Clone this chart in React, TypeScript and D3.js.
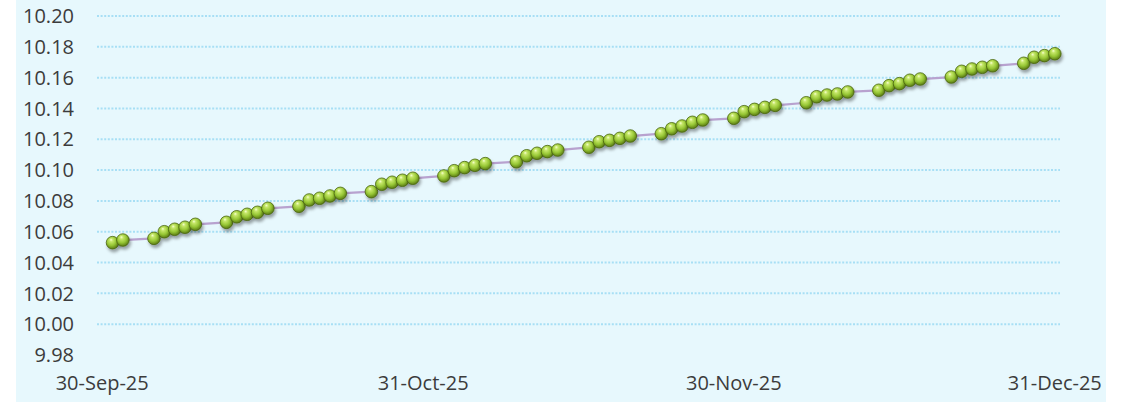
import { useEffect, useRef } from "react";
import * as d3 from "d3";

// trading days (Sun-Thu) and the value
const dates = [
  "2025-10-01", "2025-10-02",
  "2025-10-05", "2025-10-06", "2025-10-07", "2025-10-08", "2025-10-09",
  "2025-10-12", "2025-10-13", "2025-10-14", "2025-10-15", "2025-10-16",
  "2025-10-19", "2025-10-20", "2025-10-21", "2025-10-22", "2025-10-23",
  "2025-10-26", "2025-10-27", "2025-10-28", "2025-10-29", "2025-10-30",
  "2025-11-02", "2025-11-03", "2025-11-04", "2025-11-05", "2025-11-06",
  "2025-11-09", "2025-11-10", "2025-11-11", "2025-11-12", "2025-11-13",
  "2025-11-16", "2025-11-17", "2025-11-18", "2025-11-19", "2025-11-20",
  "2025-11-23", "2025-11-24", "2025-11-25", "2025-11-26", "2025-11-27",
  "2025-11-30", "2025-12-01", "2025-12-02", "2025-12-03", "2025-12-04",
  "2025-12-07", "2025-12-08", "2025-12-09", "2025-12-10", "2025-12-11",
  "2025-12-14", "2025-12-15", "2025-12-16", "2025-12-17", "2025-12-18",
  "2025-12-21", "2025-12-22", "2025-12-23", "2025-12-24", "2025-12-25",
  "2025-12-28", "2025-12-29", "2025-12-30", "2025-12-31",
];

const values = [
  10.0529, 10.0546,
  10.0557, 10.06, 10.0616, 10.0629, 10.0648,
  10.0661, 10.0697, 10.0713, 10.0726, 10.0752,
  10.0765, 10.0806, 10.0817, 10.0832, 10.0849,
  10.086, 10.0908, 10.0921, 10.0934, 10.0947,
  10.0962, 10.0996, 10.1016, 10.1031, 10.1042,
  10.1054, 10.1093, 10.1109, 10.112, 10.113,
  10.1148, 10.1184, 10.1193, 10.1206, 10.1221,
  10.1236, 10.1268, 10.1286, 10.131, 10.1325,
  10.1336, 10.1379, 10.1394, 10.1407, 10.142,
  10.1437, 10.1476, 10.1487, 10.1494, 10.1507,
  10.1518, 10.1548, 10.1561, 10.1583, 10.1591,
  10.1604, 10.1641, 10.1656, 10.1667, 10.1677,
  10.1693, 10.1732, 10.1743, 10.1755,
];

const yTicks = [9.98, 10.0, 10.02, 10.04, 10.06, 10.08, 10.1, 10.12, 10.14, 10.16, 10.18, 10.2];
const xTicks = ["2025-09-30", "2025-10-31", "2025-11-30", "2025-12-31"];

const W = 1122;
const H = 402;

const App = () => {
  const svgRef = useRef<SVGSVGElement>(null);

  useEffect(() => {
    if (!svgRef.current) return;
    const svg = d3.select(svgRef.current);
    svg.selectAll("*").remove();

    const parse = d3.utcParse("%Y-%m-%d");
    const fmt = d3.utcFormat("%-d-%b-%y");
    const data = dates.map((d, i) => ({ date: parse(d) as Date, value: values[i] }));

    const halfDay = 12 * 3600 * 1000;
    const first = parse(xTicks[0]) as Date;
    const last = parse(xTicks[xTicks.length - 1]) as Date;

    const x = d3
      .scaleUtc()
      .domain([new Date(first.getTime() - halfDay), new Date(last.getTime() + halfDay)])
      .range([97, 1060]);
    const y = d3.scaleLinear().domain([9.98, 10.2]).range([355, 16]);

    const defs = svg.append("defs");
    const grad = defs
      .append("radialGradient")
      .attr("id", "ball")
      .attr("cx", "44%")
      .attr("cy", "40%")
      .attr("r", "60%")
      .attr("fx", "38%")
      .attr("fy", "26%");
    grad.append("stop").attr("offset", "0%").attr("stop-color", "#f6ffd2");
    grad.append("stop").attr("offset", "22%").attr("stop-color", "#c6e76a");
    grad.append("stop").attr("offset", "62%").attr("stop-color", "#96c634");
    grad.append("stop").attr("offset", "100%").attr("stop-color", "#5a7b14");

    const shadow = defs
      .append("filter")
      .attr("id", "shadow")
      .attr("x", "-60%")
      .attr("y", "-60%")
      .attr("width", "220%")
      .attr("height", "220%");
    shadow
      .append("feDropShadow")
      .attr("dx", 1.5)
      .attr("dy", 3)
      .attr("stdDeviation", 1.8)
      .attr("flood-color", "#000")
      .attr("flood-opacity", 0.35);

    // background
    svg
      .append("rect")
      .attr("x", 16)
      .attr("y", 0)
      .attr("width", 1090)
      .attr("height", H)
      .attr("fill", "#e7f8fd");

    // gridlines
    svg
      .append("g")
      .selectAll("line")
      .data(yTicks.filter((t) => t > 9.99))
      .join("line")
      .attr("x1", 97)
      .attr("x2", 1060)
      .attr("y1", (d) => y(d))
      .attr("y2", (d) => y(d))
      .attr("stroke", "#a8dff5")
      .attr("stroke-width", 2)
      .attr("stroke-dasharray", "2 1.6");

    // y labels
    svg
      .append("g")
      .selectAll("text")
      .data(yTicks)
      .join("text")
      .attr("x", 74)
      .attr("y", (d) => y(d))
      .attr("dy", "0.36em")
      .attr("text-anchor", "end")
      .attr("font-family", "'Open Sans', sans-serif")
      .attr("font-size", "20px")
      .attr("fill", "#3c3c3c")
      .text((d) => d.toFixed(2));

    // x labels
    svg
      .append("g")
      .selectAll("text")
      .data(xTicks)
      .join("text")
      .attr("x", (d) => x(parse(d) as Date))
      .attr("y", 390)
      .attr("text-anchor", "middle")
      .attr("font-family", "'Open Sans', sans-serif")
      .attr("font-size", "20px")
      .attr("fill", "#3c3c3c")
      .text((d) => fmt(parse(d) as Date));

    // line
    const line = d3
      .line<{ date: Date; value: number }>()
      .x((d) => x(d.date))
      .y((d) => y(d.value));

    svg
      .append("path")
      .datum(data)
      .attr("fill", "none")
      .attr("stroke", "#b8a2cf")
      .attr("stroke-width", 2.25)
      .attr("d", line);

    // markers
    svg
      .append("g")
      .selectAll("circle")
      .data(data)
      .join("circle")
      .attr("cx", (d) => x(d.date))
      .attr("cy", (d) => y(d.value))
      .attr("r", 6.3)
      .attr("fill", "url(#ball)")
      .attr("stroke", "#4a6610")
      .attr("stroke-width", 0.8)
      .attr("filter", "url(#shadow)");
  }, []);

  return (
    <div style={{ position: "absolute", left: 0, top: 0, width: W, height: H, background: "#fff" }}>
      <svg ref={svgRef} width={W} height={H} style={{ display: "block" }} />
    </div>
  );
};

export default App;
